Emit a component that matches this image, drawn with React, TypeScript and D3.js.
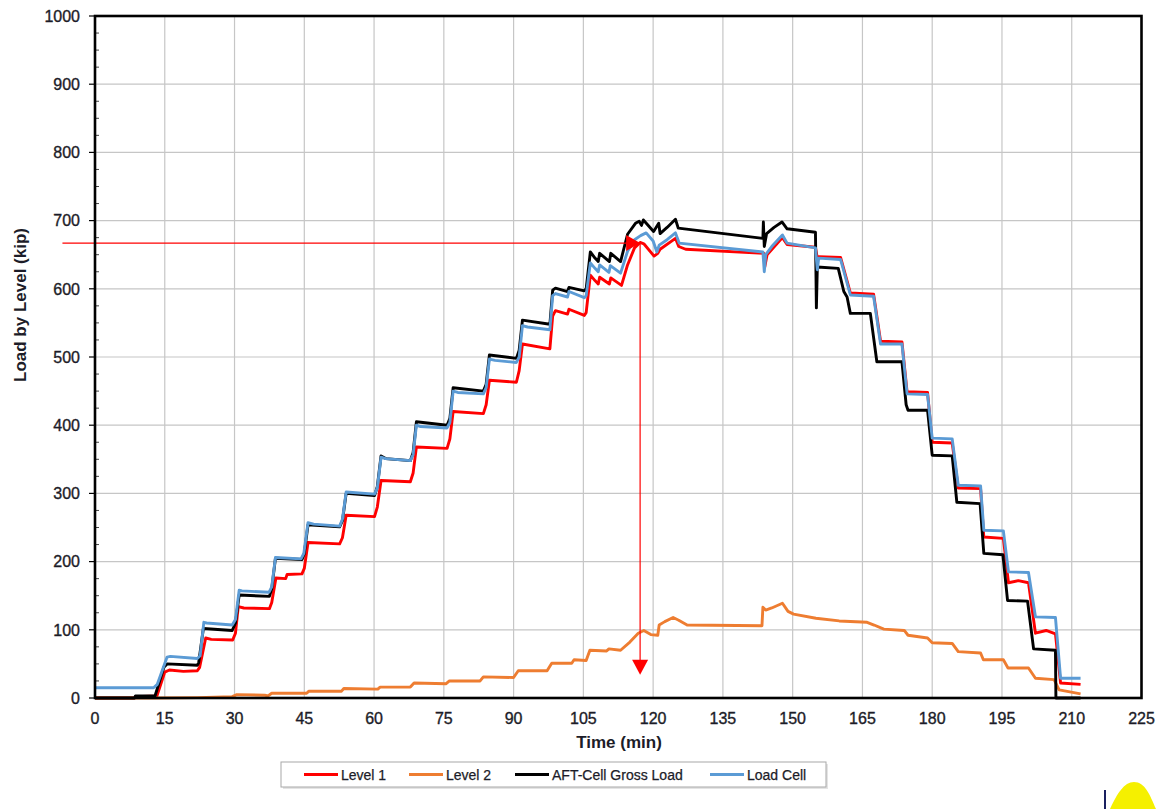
import React from 'react';
import * as d3 from 'd3';

type Pt = [number, number];

// Axis tick values
const timeTicks = [0, 15, 30, 45, 60, 75, 90, 105, 120, 135, 150, 165, 180, 195, 210, 225];
const loadTicks = [0, 100, 200, 300, 400, 500, 600, 700, 800, 900, 1000];

// Level 1 strain-gauge load (kip) vs time (min)
const level1: Pt[] = [
  [0, 0], [8.5, 0], [8.7, 2], [13.3, 3], [15.0, 38], [16, 41], [19, 39], [22.0, 40],
  [22.5, 45], [23.8, 88], [25, 86], [29.6, 85], [30.2, 95], [30.8, 134], [32, 132], [37.5, 131],
  [38, 140], [38.9, 176], [41, 175], [41.3, 181], [44.5, 182],
  [45, 190], [45.8, 228], [52.6, 226],
  [53.2, 235], [54, 268], [60.1, 266],
  [60.7, 280], [61.5, 319], [67.8, 317],
  [68.4, 330], [69.1, 368], [75.7, 366],
  [76.3, 380], [77, 420], [83.5, 417],
  [84.1, 430], [84.8, 466], [90.6, 463],
  [91.2, 480], [91.9, 519], [97.8, 512],
  [98.4, 560], [99, 568], [101.6, 563], [101.9, 570], [105.2, 561],
  [105.6, 565], [106.5, 620], [107.5, 612], [108.2, 607], [108.5, 617], [110.6, 607], [110.9, 616], [113.2, 605],
  [114.5, 635], [116, 660], [117.2, 668], [118, 666], [120.2, 648], [121, 652], [121.5, 658], [124.8, 674],
  [125.5, 662], [127, 658], [143.8, 652], [144, 632], [144.5, 650], [147.8, 675], [148.8, 665],
  [154.9, 661], [155.3, 645], [155.6, 647], [160.3, 646], [162.4, 594], [167.4, 592], [168.9, 523],
  [173.5, 522], [174.6, 449], [179, 448], [180, 375], [184.3, 374], [185.6, 308], [190.4, 307],
  [191.1, 236], [195.3, 234], [196.4, 169], [198.5, 172], [200.7, 169], [202.2, 95], [204.5, 99],
  [206.5, 94], [207.6, 22], [211.9, 20],
];

// Level 2 strain-gauge load (kip)
const level2: Pt[] = [
  [0, 0], [13, 0], [22, 0.5], [29.5, 2], [30.5, 5], [36.5, 4], [37.2, 3], [38, 7], [45.5, 7],
  [46, 10], [53, 10], [53.5, 14], [60.8, 13], [61.3, 16], [67.8, 16], [68.6, 22], [75.5, 21],
  [76.2, 25], [82.8, 25], [83.5, 31], [90, 30], [91, 40], [97.2, 40], [98.2, 51], [102.5, 51],
  [103, 56], [105.6, 55], [106.4, 70], [110, 69], [110.5, 72], [113, 70], [115, 82], [116.8, 95],
  [118, 99], [119.5, 93], [121, 92], [121.3, 107], [122.5, 112], [124.3, 118], [125.5, 114],
  [127.3, 107], [143.4, 106], [143.6, 133], [144.2, 129], [145.5, 132], [147.8, 139], [149, 127],
  [150.2, 123], [155, 117], [160, 113], [166, 111], [167.5, 107], [169.6, 101], [174, 99],
  [174.8, 92], [179, 88], [180, 81], [184.3, 80], [185.6, 68], [190.4, 66], [191, 56], [195.3, 56],
  [196.3, 44], [200.7, 44], [202.2, 29], [206.2, 27], [207.3, 12], [211.9, 6],
];

// AFT-Cell gross load (kip)
const aftGross: Pt[] = [
  [0, 0], [8.5, 0], [8.7, 3], [12.9, 3], [14.8, 45], [15.5, 50], [22.0, 48], [22.3, 52], [23.3, 102],
  [29.5, 99], [30.2, 110], [31, 151], [37.5, 149], [38, 160], [38.8, 205], [44.5, 203],
  [45, 212], [45.8, 254], [52.6, 251], [53.2, 260], [54, 300], [60.1, 297],
  [60.7, 310], [61.5, 355], [62.5, 351], [67.8, 348], [68.4, 360], [69.1, 405], [75.7, 400],
  [76.3, 410], [77, 455], [83.5, 450], [84.1, 460], [84.8, 503], [90.6, 498],
  [91.2, 510], [91.9, 554], [97.8, 548], [98.4, 598], [99, 601], [101.6, 596], [101.9, 602], [105.2, 597],
  [105.6, 600], [106.5, 654], [107.5, 645], [108.2, 640], [108.5, 652], [110.6, 640], [110.9, 652], [113, 640],
  [114.5, 680], [116.2, 696], [117, 699], [117.5, 693], [117.9, 701], [120.1, 684], [121.2, 696],
  [121.5, 681], [123, 690], [123.6, 694], [124.8, 702], [125.4, 689], [143.6, 674], [143.7, 698],
  [143.9, 662], [144.4, 681], [146, 690], [147.7, 698], [148.8, 688], [154.9, 683], [155.1, 572],
  [155.3, 632], [159.8, 630], [161, 596], [161.7, 588], [162.4, 564], [166.7, 564], [168.1, 493],
  [173.5, 493], [174.4, 430], [174.8, 422], [179, 422], [180, 356], [184.3, 355], [185.3, 287],
  [190.3, 285], [191.1, 212], [195.2, 210], [196.2, 143], [200.5, 142], [201.8, 72], [206.5, 70],
  [206.6, 0], [211.9, 0],
];

// Load cell reading (kip)
const loadCell: Pt[] = [
  [0, 15], [12.6, 15], [13.4, 20], [15.5, 60], [16.2, 61], [22.0, 58], [22.6, 62], [23.4, 111],
  [24, 110], [29.5, 107], [30.2, 115], [31.0, 158], [31.6, 157], [37.4, 155], [38.0, 163], [38.8, 206],
  [44.3, 204], [44.9, 212], [45.8, 257], [47, 255], [52.6, 252], [53.2, 262], [54.0, 302], [60.1, 299],
  [60.7, 308], [61.5, 353], [62.5, 351], [67.8, 348], [68.4, 357], [69.1, 400], [70, 398], [75.7, 396],
  [76.3, 404], [77, 450], [78, 448], [83.5, 446], [84.1, 455], [84.8, 497], [86, 495], [90.6, 492],
  [91.2, 500], [91.9, 546], [93, 544], [97.8, 540], [98.4, 590], [99, 593], [101.6, 588], [101.9, 596],
  [105.2, 587], [105.6, 590], [106.5, 638], [107.5, 630], [108.2, 625], [108.5, 635], [110.5, 624],
  [110.8, 634], [113.0, 623], [114.5, 655], [116.0, 672], [117.3, 678], [118.5, 682], [120, 670],
  [120.8, 654], [121.3, 664], [123, 672], [124.8, 682], [125.6, 667], [143.6, 654], [143.9, 625],
  [144.2, 650], [145.5, 662], [147.8, 679], [148.8, 667], [154.9, 660], [155.3, 628], [155.6, 645],
  [160.3, 643], [162.4, 591], [167.4, 589], [168.9, 519], [173.5, 519], [174.6, 446], [179, 445],
  [180, 381], [184.3, 380], [185.6, 312], [190.4, 311], [191.1, 246], [195.3, 245], [196.4, 185],
  [200.7, 184], [202.2, 119], [206.5, 118], [207.6, 29], [211.9, 29],
];

// Marked peak load and its time
const markTime = 117.2;
const markLoad = 667;
const markFloor = 34;
const markLineStart = -7;

const seriesNames = ['Level 1', 'Level 2', 'AFT-Cell Gross Load', 'Load Cell'];
const seriesData = [level1, level2, aftGross, loadCell];
const seriesColors = ['#ff0000', '#ee7d31', '#000000', '#5b9bd5'];

const W = 1164;
const H = 809;
const plot = { left: 95, right: 1141.5, top: 16, bottom: 698 };
const ink = '#1c1c28';

export default function App() {
  const x = d3.scaleLinear().domain([0, 225]).range([plot.left, plot.right]);
  const y = d3.scaleLinear().domain([0, 1000]).range([plot.bottom, plot.top]);
  const line = d3.line<Pt>().x((d) => x(d[0])).y((d) => y(d[1]));

  const minorTicks = d3.range(25, 1000, 25).filter((v) => v % 100 !== 0);
  const legendX = [304, 409, 515, 710];

  const ax = x(markTime);
  const ay = y(markLoad);
  const floorY = y(markFloor);

  return (
    <svg
      width={W}
      height={H}
      style={{ position: 'absolute', left: 0, top: 0, fontFamily: '"Liberation Sans", Arial, sans-serif' }}
    >
      <rect x={0} y={0} width={W} height={H} fill="#ffffff" />

      {/* grid */}
      {timeTicks.slice(1, -1).map((t) => (
        <line key={'gx' + t} x1={x(t)} x2={x(t)} y1={plot.top} y2={plot.bottom} stroke="#c6c6c6" strokeWidth={1.2} />
      ))}
      {loadTicks.slice(1, -1).map((v) => (
        <line key={'gy' + v} x1={plot.left} x2={plot.right} y1={y(v)} y2={y(v)} stroke="#c6c6c6" strokeWidth={1.2} />
      ))}

      {/* y ticks */}
      {loadTicks.map((v) => (
        <line key={'ty' + v} x1={plot.left - 6} x2={plot.left} y1={y(v)} y2={y(v)} stroke="#000" strokeWidth={1.2} />
      ))}
      {minorTicks.map((v) => (
        <line key={'my' + v} x1={plot.left} x2={plot.left + 4} y1={y(v)} y2={y(v)} stroke="#444" strokeWidth={1} />
      ))}

      {/* series */}
      {seriesData.map((d, i) => (
        <path
          key={seriesNames[i]}
          d={line(d) || ''}
          fill="none"
          stroke={seriesColors[i]}
          strokeWidth={2.9}
          strokeLinejoin="round"
        />
      ))}

      {/* peak marker */}
      <line x1={x(markLineStart)} x2={ax - 12} y1={ay} y2={ay} stroke="#ff0000" strokeWidth={1.2} />
      <path d={`M${ax - 14},${ay - 8} L${ax},${ay} L${ax - 14},${ay + 8} Z`} fill="#ff0000" />
      <line x1={ax} x2={ax} y1={ay} y2={floorY - 12} stroke="#ff0000" strokeWidth={1.2} />
      <path d={`M${ax - 8},${floorY - 15} L${ax},${floorY} L${ax + 8},${floorY - 15} Z`} fill="#ff0000" />

      {/* frame */}
      <rect
        x={plot.left}
        y={plot.top}
        width={plot.right - plot.left}
        height={plot.bottom - plot.top}
        fill="none"
        stroke="#000"
        strokeWidth={2.6}
      />

      {/* tick labels */}
      {timeTicks.map((t) => (
        <text key={'lx' + t} x={x(t)} y={724} textAnchor="middle" fontSize={16} fill={ink} stroke={ink} strokeWidth={0.35}>
          {t}
        </text>
      ))}
      {loadTicks.map((v) => (
        <text key={'ly' + v} x={80} y={y(v)} dy="0.36em" textAnchor="end" fontSize={16} fill={ink} stroke={ink} strokeWidth={0.35}>
          {v}
        </text>
      ))}

      {/* axis titles */}
      <text x={619} y={748} textAnchor="middle" fontSize={17} fontWeight="bold" fill={ink}>
        Time (min)
      </text>
      <text
        transform={`translate(26,305) rotate(-90)`}
        textAnchor="middle"
        fontSize={17}
        fontWeight="bold"
        fill={ink}
      >
        Load by Level (kip)
      </text>

      {/* legend */}
      <rect x={283} y={764} width={545} height={25} fill="#e4e4e4" />
      <rect x={281} y={762} width={545} height={25} fill="#ffffff" stroke="#a8a8a8" strokeWidth={1} />
      {seriesNames.map((name, i) => (
        <g key={'lg' + name}>
          <line x1={legendX[i]} x2={legendX[i] + 34} y1={774.5} y2={774.5} stroke={seriesColors[i]} strokeWidth={3} />
          <text x={legendX[i] + 37} y={779.5} fontSize={14} fill={ink} stroke={ink} strokeWidth={0.25}>
            {name}
          </text>
        </g>
      ))}

      {/* corner emblem fragment */}
      <path d="M1110,809 C1117,794 1124,782 1134,782 C1145,782 1150,795 1156,809 Z" fill="#f5f000" />
      <line x1={1105} x2={1105} y1={790} y2={809} stroke="#1a2060" strokeWidth={2} />
    </svg>
  );
}
